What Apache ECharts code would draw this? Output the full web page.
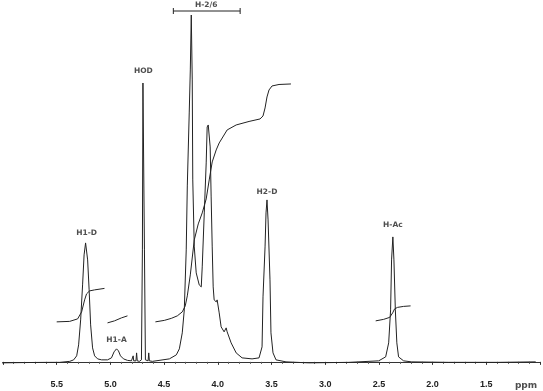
<!DOCTYPE html>
<html>
<head>
<meta charset="utf-8">
<script src="https://cdn.jsdelivr.net/npm/echarts@6/dist/echarts.min.js"></script>
<style>
html,body{margin:0;padding:0;background:#fff;}
#c{width:543px;height:391px;}
</style>
</head>
<body>
<div id="c"></div>
<script>
// chemical shift axis (ppm), tick labels every 0.5
var ppmMin = 1.0, ppmMax = 6.0, ppmStep = 0.5;
var axisUnit = 'ppm';

// 1H NMR spectrum trace: [ppm, relative intensity]
var spectrum = [
  [6.01,-0.29],[5.80,-0.2],[5.60,-0.15],[5.472,-0.14],[5.379,0.14],[5.342,0.58],[5.314,1.73],
  [5.296,4.9],[5.277,12.1],[5.259,22.19],[5.245,30.84],[5.231,34.29],[5.222,33.72],[5.212,29.39],
  [5.198,20.75],[5.184,10.66],[5.166,4.03],[5.147,1.73],[5.119,0.86],[5.082,0.58],[5.027,0.58],
  [4.990,1.15],[4.966,2.88],[4.943,3.75],[4.925,3.17],[4.906,1.73],[4.878,0.86],[4.841,0.43],
  [4.804,0.29],[4.795,0.29],[4.788,1.73],[4.783,0.29],[4.762,0.29],[4.756,2.59],[4.750,0.29],
  [4.730,0.14],[4.711,0.58],[4.702,32.28],[4.697,80.4],[4.688,80.4],[4.683,32.28],[4.674,0.58],
  [4.665,0.14],[4.649,0.29],[4.643,2.59],[4.637,0.29],[4.609,0.14],[4.451,0.86],[4.386,2.02],
  [4.358,3.75],[4.331,8.36],[4.312,14.99],[4.294,32.28],[4.284,50.72],[4.266,71.76],[4.256,84.15],
  [4.247,100],[4.238,81.27],[4.233,52.45],[4.219,33.14],[4.201,25.65],[4.173,22.19],[4.154,21.61],
  [4.145,27.38],[4.126,42.94],[4.108,57.35],[4.099,67.72],[4.089,68.3],[4.071,61.96],[4.062,47.55],
  [4.052,33.14],[4.043,21.61],[4.034,17.87],[4.015,17.29],[4.006,17.87],[3.987,14.12],[3.969,10.09],
  [3.941,8.65],[3.922,9.8],[3.913,8.65],[3.876,5.48],[3.829,2.59],[3.774,1.15],[3.681,0.86],
  [3.616,1.15],[3.588,4.32],[3.579,18.73],[3.560,33.14],[3.551,42.94],[3.542,46.69],[3.532,40.92],
  [3.514,23.63],[3.505,8.36],[3.486,2.59],[3.458,0.58],[3.365,0],[3.152,-0.29],[2.781,-0.14],
  [2.502,0.29],[2.437,1.44],[2.409,5.48],[2.391,14.99],[2.382,29.39],[2.370,36.02],[2.360,29.39],
  [2.347,14.99],[2.333,5.48],[2.317,1.44],[2.270,0.29],[2.196,0],[1.853,-0.14],[1.390,-0.14],[1.04,0]
];

// integral traces (offset curves)
var integralH1D = [[5.5,11.53],[5.379,11.67],[5.305,12.39],[5.268,14.41],[5.240,17.87],[5.222,19.6],[5.194,20.46],[5.147,20.75],[5.055,21.18]];
var integralH1A = [[5.027,11.24],[4.962,11.82],[4.897,12.68],[4.841,13.26]];
var integralH26 = [[4.581,11.53],[4.498,11.96],[4.433,12.54],[4.377,13.26],[4.331,14.41],[4.303,16.14],[4.284,19.02],
  [4.256,25.07],[4.219,35.16],[4.182,39.77],[4.145,42.94],[4.108,46.97],[4.080,52.45],[4.052,57.64],[4.015,61.1],
  [3.987,63.11],[3.913,66.86],[3.829,68.3],[3.709,69.31],[3.607,70.03],[3.579,70.89],[3.560,73.2],[3.542,76.37],
  [3.523,78.39],[3.495,79.54],[3.430,79.97],[3.319,80.12]];
var integralHAc = [[2.530,11.82],[2.456,12.25],[2.400,12.82],[2.372,14.12],[2.354,15.27],[2.326,15.71],[2.270,15.99],[2.205,16.14]];

// peak annotations: label, ppm, height of label centre
var peakLabels = ['H1-D','H1-A','HOD','H-2/6','H2-D','H-Ac'];
var peakPpm    = [5.222, 4.943, 4.693, 4.108, 3.542, 2.370];
var peakHeight = [37.2, 6.34, 83.86, 102.9, 48.99, 39.48];

// H-2/6 range bracket
var bracketRange = [4.414, 3.792];
var bracketHeight = 101.15;
var unitLabelPos = [1.13, -6.8];

var ink = '#222';
var chart = echarts.init(document.getElementById('c'), null, {renderer:'canvas'});

function lineSeries(data, w){
  return {type:'line', data:data, showSymbol:false, symbol:'none', smooth:false,
    lineStyle:{color:ink, width:w}, silent:true, animation:false, clip:false};
}

var labelData = peakLabels.map(function(t,i){ return {value:[peakPpm[i], peakHeight[i]], name:t}; });
labelData.push({value:unitLabelPos, name:axisUnit, label:{fontSize:9}});

var option = {
  animation:false,
  grid:{left:3, right:1, top:15, bottom:17},
  xAxis:{
    type:'value', inverse:true, min:ppmMin, max:ppmMax, interval:ppmStep,
    axisLine:{lineStyle:{color:'#333', width:1}},
    axisTick:{show:true, length:3, lineStyle:{color:'#333'}},
    minorTick:{show:true, splitNumber:5, length:2, lineStyle:{color:'#555'}},
    splitLine:{show:false},
    axisLabel:{
      margin:6, color:ink, fontFamily:'Liberation Sans', fontWeight:'bold', fontSize:9,
      formatter:function(v){ if (v <= ppmMin + 1e-6 || v >= ppmMax - 1e-6) return ''; return v.toFixed(1); }
    }
  },
  yAxis:{type:'value', min:-3.5, max:100, show:false},
  series:[
    lineSeries(spectrum, 1),
    lineSeries(integralH1D, 1),
    lineSeries(integralH1A, 1),
    lineSeries(integralH26, 1),
    lineSeries(integralHAc, 1),
    {type:'line', data:bracketRange.map(function(p){return [p, bracketHeight];}),
      symbol:'rect', symbolSize:[1,6], showSymbol:true, itemStyle:{color:ink},
      lineStyle:{color:ink, width:1}, clip:false, silent:true},
    {type:'scatter', data:labelData, symbolSize:0, clip:false, silent:true,
      label:{show:true, position:'inside', formatter:'{b}', color:ink,
        fontFamily:'DejaVu Sans', fontWeight:'bold', fontSize:7.5}}
  ]
};
chart.setOption(option);
</script>
</body>
</html>
